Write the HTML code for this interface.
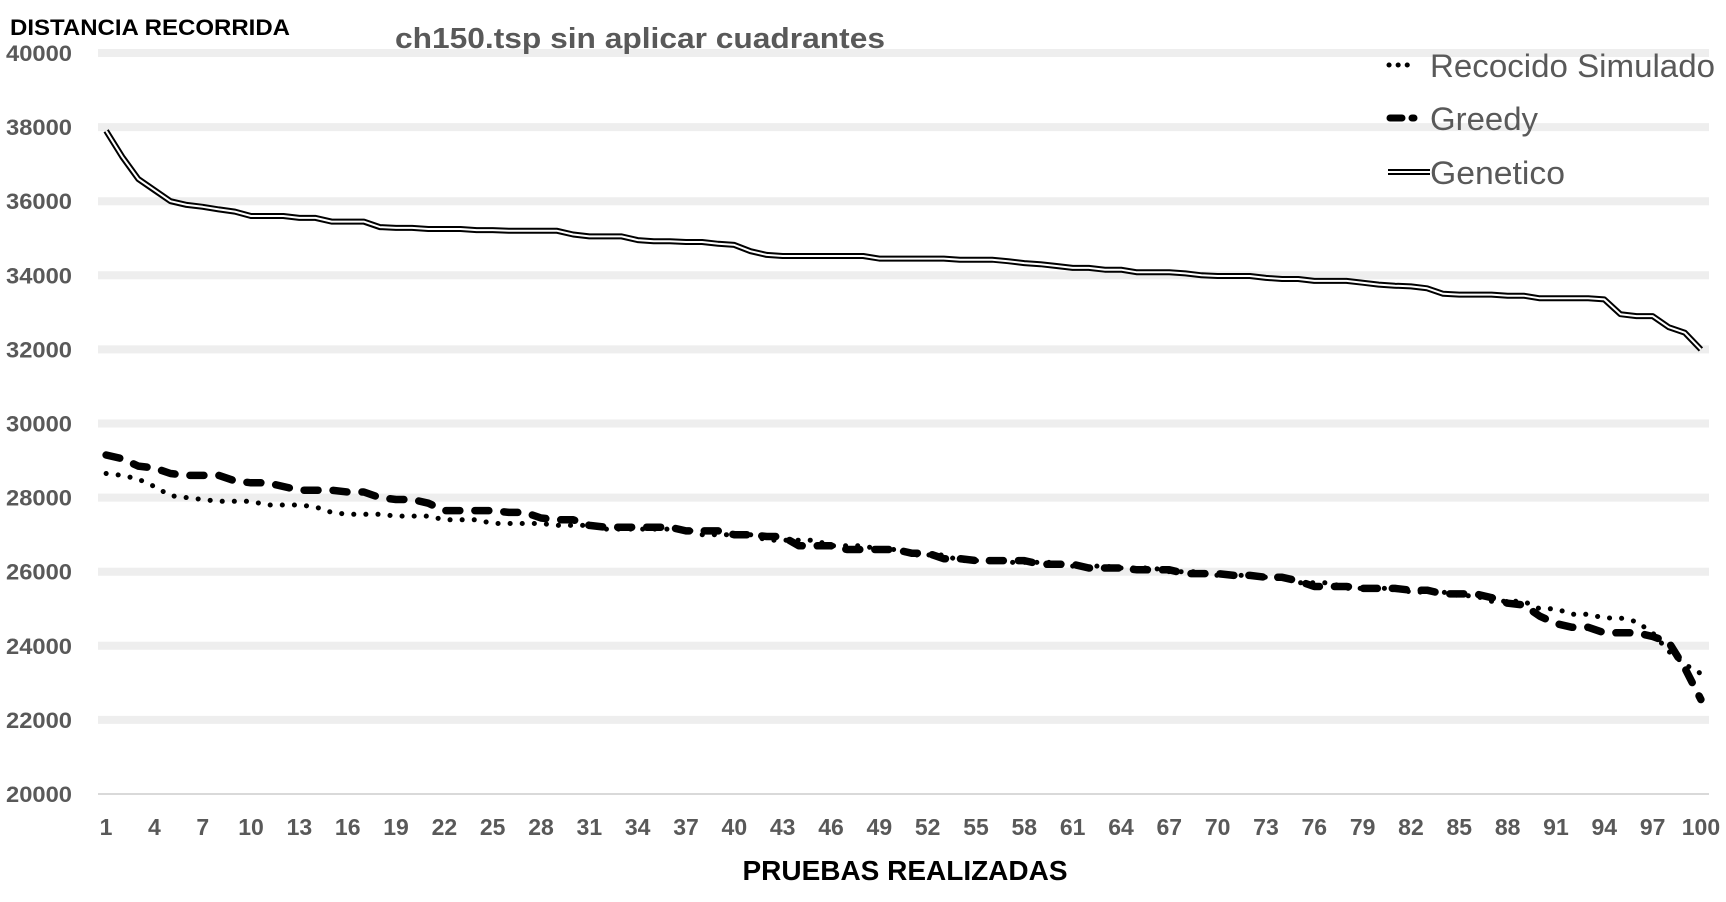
<!DOCTYPE html>
<html><head><meta charset="utf-8"><style>
html,body{margin:0;padding:0;background:#fff;}
svg{display:block;font-family:"Liberation Sans",sans-serif;}
</style></head><body>
<svg id="chart" width="1726" height="902" viewBox="0 0 1726 902" xmlns="http://www.w3.org/2000/svg">
<g id="grid"></g>
<g id="yticks"></g>
<g id="xticks"></g>
<g id="series"></g>
<text x="10" y="35" font-size="22" font-weight="bold" fill="#000" textLength="280" lengthAdjust="spacingAndGlyphs">DISTANCIA RECORRIDA</text>
<text x="395" y="48" font-size="29" font-weight="bold" fill="#595959" textLength="490" lengthAdjust="spacingAndGlyphs">ch150.tsp sin aplicar cuadrantes</text>
<text x="905" y="880" text-anchor="middle" font-size="28" font-weight="bold" fill="#000" textLength="325" lengthAdjust="spacingAndGlyphs">PRUEBAS REALIZADAS</text>
<g>
  <g>
    <line x1="1389" y1="65" x2="1415" y2="65" stroke="#000" stroke-width="5" stroke-linecap="round" stroke-dasharray="0.1 9"/>
    <text x="1430" y="77" font-size="32" fill="#595959" textLength="285" lengthAdjust="spacingAndGlyphs">Recocido Simulado</text>
  </g>
  <g>
    <line x1="1390" y1="118" x2="1430" y2="118" stroke="#000" stroke-width="7" stroke-linecap="round" stroke-dasharray="12 10 2 30"/>
    <text x="1430" y="130" font-size="32" fill="#595959" textLength="108" lengthAdjust="spacingAndGlyphs">Greedy</text>
  </g>
  <g>
    <line x1="1388" y1="172" x2="1430" y2="172" stroke="#000" stroke-width="6"/>
    <line x1="1388" y1="172" x2="1430" y2="172" stroke="#fff" stroke-width="2"/>
    <text x="1430" y="184" font-size="32" fill="#595959" textLength="135" lengthAdjust="spacingAndGlyphs">Genetico</text>
  </g>
</g>
</svg>
<script>
const categories = Array.from({length:100},(_,i)=>i+1);
const yTicks = [20000,22000,24000,26000,28000,30000,32000,34000,36000,38000,40000];
const xTickLabels = [1,4,7,10,13,16,19,22,25,28,31,34,37,40,43,46,49,52,55,58,61,64,67,70,73,76,79,82,85,88,91,94,97,100];
const genetico = [37900,37200,36600,36300,36000,35900,35850,35780,35720,35600,
35600,35600,35550,35550,35450,35450,35450,35300,35280,35280,
35250,35250,35250,35220,35220,35200,35200,35200,35200,35100,
35050,35050,35050,34950,34920,34920,34900,34900,34850,34820,
34650,34550,34520,34520,34520,34520,34520,34520,34450,34450,
34450,34450,34450,34420,34420,34420,34380,34330,34300,34250,
34200,34200,34150,34150,34080,34080,34080,34050,34000,33980,
33980,33980,33930,33900,33900,33850,33850,33850,33800,33750,
33720,33700,33650,33500,33480,33480,33480,33450,33450,33380,
33380,33380,33380,33350,32950,32900,32900,32600,32450,32000];
const recocido = [28650,28600,28500,28300,28050,28000,27950,27900,27900,27900,
27800,27800,27800,27750,27600,27550,27550,27550,27500,27500,
27500,27400,27400,27400,27300,27300,27300,27300,27250,27250,
27250,27150,27150,27150,27150,27150,27150,27000,27000,27000,
27000,26850,26850,26850,26850,26700,26700,26700,26600,26600,
26450,26450,26450,26300,26300,26300,26250,26250,26250,26250,
26150,26150,26150,26100,26100,26100,26000,26000,26000,25900,
25900,25900,25850,25850,25700,25700,25700,25550,25550,25550,
25550,25450,25450,25450,25350,25350,25200,25200,25200,25000,
25000,24850,24850,24750,24750,24650,24350,23850,23500,23250];
const greedy = [29150,29050,28850,28800,28650,28600,28600,28600,28450,28400,
28400,28300,28200,28200,28200,28150,28150,28000,27950,27950,
27850,27650,27650,27650,27650,27600,27600,27450,27400,27400,
27250,27200,27200,27200,27200,27200,27100,27100,27100,27000,
27000,26950,26950,26700,26700,26700,26600,26600,26600,26600,
26500,26500,26350,26350,26300,26300,26300,26300,26200,26200,
26200,26100,26100,26100,26050,26050,26050,25950,25950,25950,
25900,25900,25850,25850,25750,25600,25600,25600,25550,25550,
25550,25500,25500,25400,25400,25400,25300,25150,25100,24800,
24600,24500,24500,24350,24350,24350,24250,24100,23400,22550];

const NS='http://www.w3.org/2000/svg';
const L=98,R=1709,T=53,B=794,YMIN=20000,YMAX=40000;
const step=(R-L)/categories.length;
const xs=c=>L+step*(c-0.5);
const ys=v=>B-(v-YMIN)/(YMAX-YMIN)*(B-T);
function mk(tag,attrs,parent){const e=document.createElementNS(NS,tag);for(const k in attrs)e.setAttribute(k,attrs[k]);parent.appendChild(e);return e;}
const grid=document.getElementById('grid'),yt=document.getElementById('yticks'),xt=document.getElementById('xticks'),ser=document.getElementById('series');
yTicks.forEach(v=>{
  const g=mk('line',{x1:L,x2:R,y1:ys(v),y2:ys(v),stroke:v===YMIN?'#d9d9d9':'#eeeeee','stroke-width':v===YMIN?2:8},grid);
  
  
  const t=mk('text',{x:6,y:ys(v)+8,'font-size':22,'font-weight':'bold',fill:'#595959',textLength:66,lengthAdjust:'spacingAndGlyphs'},yt);
  t.textContent=v;
  
  
});
xTickLabels.forEach(c=>{
  const t=mk('text',{x:xs(c),y:835,'text-anchor':'middle','font-size':23,'font-weight':'bold',fill:'#595959'},xt);
  t.textContent=c;
  
  
});
const pts=arr=>arr.map((v,i)=>xs(categories[i]).toFixed(1)+','+ys(v).toFixed(1)).join(' ');
const g1=mk('polyline',{points:pts(genetico),fill:'none',stroke:'#000','stroke-width':6,'stroke-linejoin':'round'},ser);


const g2=mk('polyline',{points:pts(genetico),fill:'none',stroke:'#fff','stroke-width':2,'stroke-linejoin':'round'},ser);


const r1=mk('polyline',{points:pts(recocido),fill:'none',stroke:'#000','stroke-width':5,'stroke-linecap':'round','stroke-dasharray':'0.1 12'},ser);


const gr=mk('polyline',{points:pts(greedy),fill:'none',stroke:'#000','stroke-width':7.5,'stroke-linecap':'round','stroke-linejoin':'round','stroke-dasharray':'14 15'},ser);


</script>
</body></html>
